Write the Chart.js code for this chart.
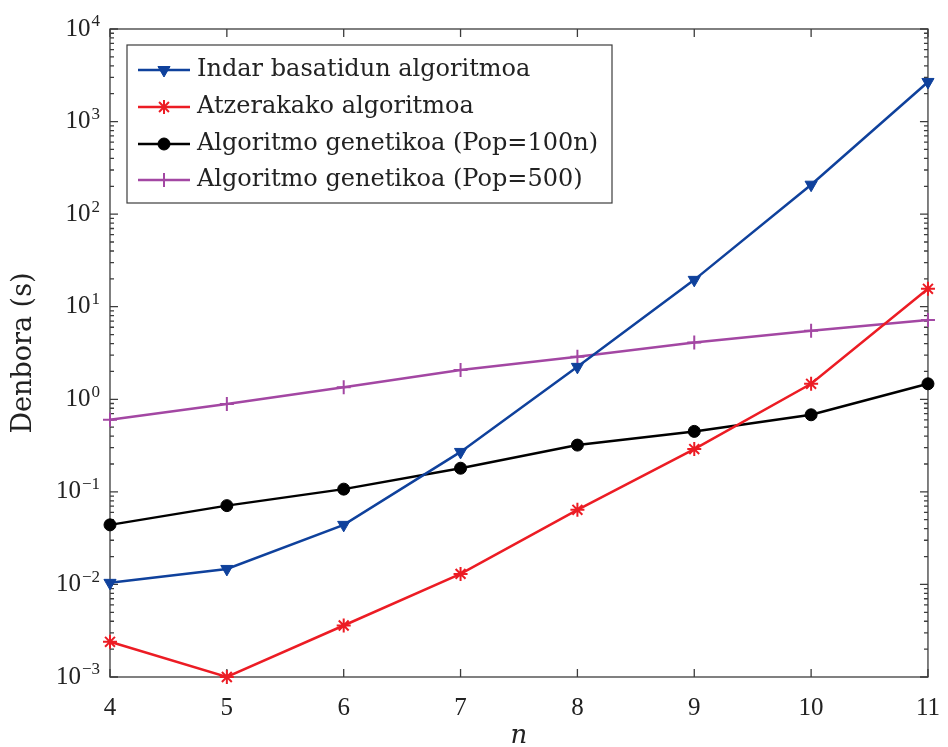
<!DOCTYPE html>
<html>
<head>
<meta charset="utf-8">
<script src="https://cdn.jsdelivr.net/npm/chart.js@4.4.0/dist/chart.umd.min.js"></script>
<style>
  html, body { margin: 0; padding: 0; background: #fff; }
  #wrap { width: 948px; height: 747px; }
</style>
</head>
<body>
<div id="wrap"><canvas id="timeChart"></canvas></div>
<script>
const nValues = [4, 5, 6, 7, 8, 9, 10, 11];
const bruteForceTimes = [0.0104, 0.0147, 0.044, 0.27, 2.24, 19.5, 208, 2680];
const backtrackingTimes = [0.0024, 0.001, 0.0036, 0.013, 0.064, 0.29, 1.47, 15.6];
const geneticPop100nTimes = [0.044, 0.071, 0.107, 0.18, 0.32, 0.45, 0.68, 1.47];
const geneticPop500Times = [0.60, 0.89, 1.35, 2.07, 2.88, 4.1, 5.5, 7.2];
const seriesLabels = [
  "Indar basatidun algoritmoa",
  "Atzerakako algoritmoa",
  "Algoritmo genetikoa (Pop=100n)",
  "Algoritmo genetikoa (Pop=500)"
];
const yDecades = [-3, -2, -1, 0, 1, 2, 3, 4];
const minorSteps = [2, 3, 4, 5, 6, 7, 8, 9];

const SERIF = "'Liberation Serif', 'DejaVu Serif', serif";
const WIDE_SERIF = "'DejaVu Serif', 'Liberation Serif', serif";
const TEXT_COLOR = "#222";
const AXIS_COLOR = "#3c3c3c";

function toPoints(values) {
  return nValues.map((n, i) => ({x: n, y: values[i]}));
}

function makeDataset(label, values, color, style) {
  return Object.assign({
    label: label,
    data: toPoints(values),
    borderColor: color,
    backgroundColor: color,
    pointBorderColor: color,
    pointBackgroundColor: color,
    borderWidth: 2.5,
    tension: 0,
    fill: false,
    clip: false
  }, style);
}

const datasets = [
  makeDataset(seriesLabels[0], bruteForceTimes, "#0f419c",
    {pointStyle: "triangle", rotation: 180, pointRadius: 7, pointBorderWidth: 1}),
  makeDataset(seriesLabels[1], backtrackingTimes, "#ec1c24",
    {pointStyle: "star", pointRadius: 7, pointBorderWidth: 2}),
  makeDataset(seriesLabels[2], geneticPop100nTimes, "#000000",
    {pointStyle: "circle", pointRadius: 6, pointBorderWidth: 1}),
  makeDataset(seriesLabels[3], geneticPop500Times, "#a347a3",
    {pointStyle: "cross", pointRadius: 7, pointBorderWidth: 2})
];

// box, inward ticks on all four sides and the 10^k labels
const matlabAxes = {
  id: "matlabAxes",
  beforeDatasetsDraw(chart) {
    const {ctx, chartArea: a, scales: {x, y}} = chart;
    ctx.save();
    ctx.strokeStyle = AXIS_COLOR;
    ctx.lineWidth = 1.3;
    ctx.strokeRect(a.left, a.top, a.right - a.left, a.bottom - a.top);

    ctx.beginPath();
    nValues.forEach(n => {
      const px = x.getPixelForValue(n);
      ctx.moveTo(px, a.bottom); ctx.lineTo(px, a.bottom - 8);
      ctx.moveTo(px, a.top); ctx.lineTo(px, a.top + 8);
    });
    yDecades.forEach(d => {
      const steps = d === yDecades[yDecades.length - 1] ? [1] : [1].concat(minorSteps);
      steps.forEach(m => {
        const py = y.getPixelForValue(m * Math.pow(10, d));
        const len = m === 1 ? 8 : 4;
        ctx.moveTo(a.left, py); ctx.lineTo(a.left + len, py);
        ctx.moveTo(a.right, py); ctx.lineTo(a.right - len, py);
      });
    });
    ctx.stroke();

    ctx.fillStyle = TEXT_COLOR;
    ctx.textBaseline = "middle";
    yDecades.forEach(d => {
      const py = y.getPixelForValue(Math.pow(10, d));
      const expText = d < 0 ? "\u2212" + Math.abs(d) : String(d);
      ctx.font = "17px " + SERIF;
      ctx.textAlign = "right";
      const expWidth = ctx.measureText(expText).width;
      const right = a.left - 10;
      ctx.fillText(expText, right, py - 7);
      ctx.font = "25px " + SERIF;
      ctx.fillText("10", right - expWidth - 1, py);
    });
    ctx.restore();
  }
};

const boxLegend = {
  id: "boxLegend",
  afterDatasetsDraw(chart) {
    const {ctx} = chart;
    const left = 127, top = 45, right = 612, bottom = 203;
    const rowY = [70, 107, 144, 180];
    ctx.save();
    ctx.fillStyle = "#fff";
    ctx.fillRect(left, top, right - left, bottom - top);
    ctx.strokeStyle = AXIS_COLOR;
    ctx.lineWidth = 1.2;
    ctx.strokeRect(left, top, right - left, bottom - top);
    chart.data.datasets.forEach((ds, i) => {
      const cy = rowY[i];
      ctx.strokeStyle = ds.borderColor;
      ctx.lineWidth = ds.borderWidth;
      ctx.beginPath();
      ctx.moveTo(138, cy); ctx.lineTo(190, cy);
      ctx.stroke();
      ctx.fillStyle = ds.pointBackgroundColor;
      ctx.lineWidth = ds.pointBorderWidth;
      Chart.helpers.drawPoint(ctx, {
        pointStyle: ds.pointStyle,
        radius: ds.pointRadius,
        rotation: ds.rotation || 0,
        borderWidth: ds.pointBorderWidth
      }, 164, cy);
      ctx.fillStyle = TEXT_COLOR;
      ctx.font = "24px " + WIDE_SERIF;
      ctx.textAlign = "left";
      ctx.textBaseline = "middle";
      ctx.fillText(ds.label, 197, cy);
    });
    ctx.restore();
  }
};

new Chart(document.getElementById("timeChart"), {
  type: "line",
  data: {datasets: datasets},
  options: {
    responsive: true,
    maintainAspectRatio: false,
    animation: false,
    layout: {padding: {top: 29, right: 17, left: 0, bottom: 0}},
    plugins: {legend: {display: false}, tooltip: {enabled: false}},
    scales: {
      x: {
        type: "linear",
        min: 4,
        max: 11,
        ticks: {stepSize: 1, color: TEXT_COLOR, padding: 8, font: {family: SERIF, size: 25}},
        grid: {display: false},
        border: {display: false},
        title: {display: true, text: "n", color: TEXT_COLOR, padding: 0,
          font: {family: WIDE_SERIF, size: 26, style: "italic", lineHeight: 0.8}},
        afterFit(scale) { scale.height = 70; }
      },
      y: {
        type: "logarithmic",
        min: 1e-3,
        max: 1e4,
        ticks: {display: false},
        grid: {display: false},
        border: {display: false},
        title: {display: true, text: "Denbora (s)", color: TEXT_COLOR, padding: {top: 8, bottom: 0},
          font: {family: WIDE_SERIF, size: 27}},
        afterFit(scale) { scale.width = 110; }
      }
    }
  },
  plugins: [matlabAxes, boxLegend]
});
</script>
</body>
</html>
